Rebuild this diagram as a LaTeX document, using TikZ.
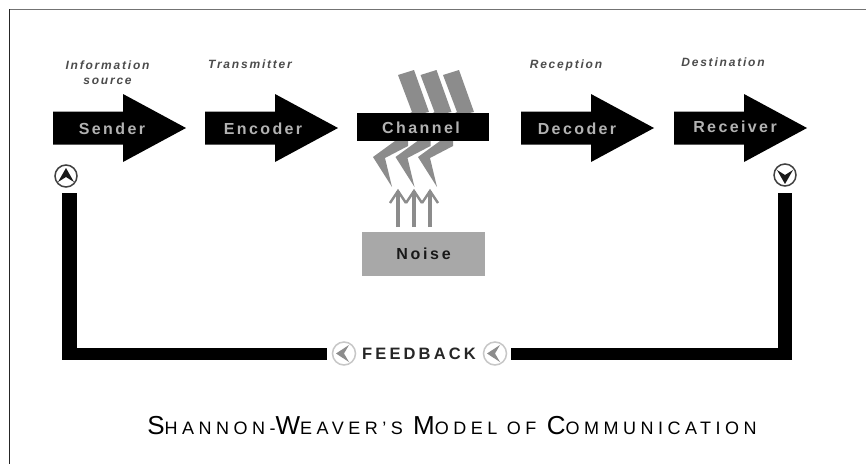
\documentclass[tikz,border=0pt]{standalone}
\usepackage{fontspec}
\setmainfont{Liberation Sans}
\definecolor{boltgray}{gray}{0.55}
\definecolor{noisegray}{gray}{0.66}
\tikzset{x=1pt,y=-1pt,
 bigarrow/.style={fill=black,draw=none},
 armlabel/.style={text=black!30,font=\fontsize{16}{16}\selectfont\bfseries\addfontfeature{LetterSpace=15}},
 rolelabel/.style={text=black!70,align=center,font=\fontsize{12}{15}\selectfont\bfseries\itshape\addfontfeature{LetterSpace=15}},
 bolt/.style={fill=boltgray,draw=none},
 ring/.style={circle,draw=black!75,line width=1.5pt,fill=white,minimum size=22pt,inner sep=0pt},
 grayring/.style={circle,draw=black!22,line width=1.5pt,fill=white,minimum size=23pt,inner sep=0pt},
 vbar/.style={line width=14.5pt,draw=black},
 hbar/.style={line width=12pt,draw=black},
 noisearrow/.style={draw=boltgray,line width=3.2pt}
}
\newcommand{\bigarr}[2]{\fill[bigarrow] (#1,#2-16.5) -- ++(70,0) -- ++(0,-17.5) -- ++(63,34) -- ++(-63,34) -- ++(0,-17.5) -- ++(-70,0) -- cycle;}
\begin{document}
\begin{tikzpicture}
\useasboundingbox (0,0) rectangle (866,464);
\fill[white] (0,0) rectangle (866,464);
\draw[black!55,line width=1.4pt] (9,9.7) -- (866,9.7);
\draw[black!85,line width=1pt] (9.5,9) -- (9.5,464);
% bolts
\foreach \x in {0,22.5,45}{
 \begin{scope}[shift={(\x,0)}]
 \fill[bolt] (398,75) -- (414,70) -- (429,112) -- (401,118) -- (412,112) -- cycle;
 \fill[bolt] (395,141) -- (408,141) -- (408,146) -- (385,158) -- (392,187) -- (373,157) -- cycle;
 \end{scope}
}
\bigarr{53}{128}
\bigarr{205}{128}
\bigarr{521}{128}
\bigarr{674}{128}
\node[bigarrow,minimum width=132pt,minimum height=28pt,inner sep=0pt] (channel) at (423,127) {};
\node[armlabel] at (112,128.5) (sender) {Sender};
\node[armlabel] at (263,128.5) (encoder) {Encoder};
\node[armlabel] at (421,127.5) (chlab) {Channel};
\node[armlabel] at (577,128.5) (decoder) {Decoder};
\node[armlabel] at (735,127) (receiver) {Receiver};
\node[rolelabel] at (107.5,72.5) (src) {Information\\source};
\node[rolelabel] at (250,64) (trans) {Transmitter};
\node[rolelabel] at (566,65) (recp) {Reception};
\node[rolelabel] at (723,62) (dest) {Destination};
% noise
\node[fill=noisegray,minimum width=123pt,minimum height=44pt,inner sep=0pt,text=black!90,font=\fontsize{16}{16}\selectfont\bfseries\addfontfeature{LetterSpace=17}] (noise) at (423.5,254) {Noise};
\foreach \x in {398,414,430}{
 \coordinate (a\x) at (\x,227);
 \coordinate (b\x) at (\x,191);
 \draw[noisearrow] (a\x) -- (b\x);
 \draw[noisearrow,line width=2.4pt] (\x-8,203) -- (b\x) -- (\x+8,203);
}
% loop
\coordinate (l1) at (69.5,193);
\coordinate (l2) at (69.5,360);
\coordinate (l4) at (62,354);
\coordinate (l3) at (327,354);
\coordinate (r1) at (785,193);
\coordinate (r2) at (785,360);
\coordinate (r4) at (792,354);
\coordinate (r3) at (511,354);
\draw[vbar] (l1) -- (l2);
\draw[hbar] (l4) -- (l3);
\draw[vbar] (r1) -- (r2);
\draw[hbar] (r4) -- (r3);
\node[ring] (up) at (66,176) {};
\fill[black!90] (66,168) -- (74,182) -- (66,177) -- (58,182) -- cycle;
\node[ring] (down) at (785,175) {};
\fill[black!90] (785,184) -- (777,170) -- (785,175) -- (793,170) -- cycle;
\node[grayring] (fb1) at (344,353.5) {};
\fill[black!45] (336,353.5) -- (349,345) -- (344,353.5) -- (349,362) -- cycle;
\node[grayring] (fb2) at (495,353.5) {};
\fill[black!45] (487,353.5) -- (500,345) -- (495,353.5) -- (500,362) -- cycle;
\node[font=\fontsize{16.5}{16.5}\selectfont\bfseries\addfontfeature{LetterSpace=19},text=black!85] (fb) at (419,353.5) {FEEDBACK};
\node[font=\fontsize{26}{26}\selectfont\addfontfeature{LetterSpace=12},text=black] (title) at (452,426) {S{\fontsize{18}{18}\selectfont\addfontfeature{LetterSpace=25} HANNON-}W{\fontsize{18}{18}\selectfont\addfontfeature{LetterSpace=25} EAVER'S} M{\fontsize{18}{18}\selectfont\addfontfeature{LetterSpace=25} ODEL OF} C{\fontsize{18}{18}\selectfont\addfontfeature{LetterSpace=25} OMMUNICATION}};
\end{tikzpicture}
\end{document}
